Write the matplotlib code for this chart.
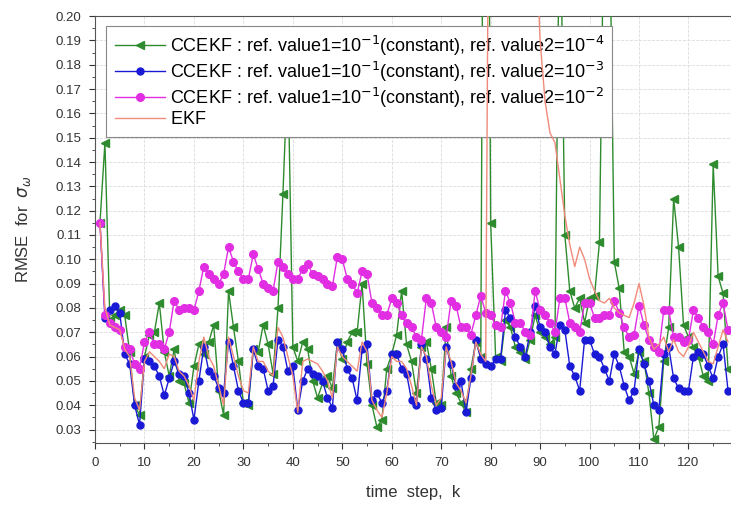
import matplotlib
matplotlib.use("Agg")
import matplotlib.pyplot as plt
from matplotlib.ticker import MultipleLocator, FormatStrFormatter
import numpy as np

plt.rcParams['font.family'] = ['Liberation Sans', 'DejaVu Sans']

# time steps k = 1 .. 128
steps = np.arange(1, 129)

# CCEKF, ref. value2 = 1e-4  (green)
rmse_1e4 = [
    0.115, 0.148, 0.075, 0.077, 0.079, 0.077, 0.062, 0.040, 0.036, 0.060,
    0.069, 0.070, 0.082, 0.062, 0.052, 0.063, 0.050, 0.049, 0.041, 0.056,
    0.065, 0.061, 0.066, 0.073, 0.046, 0.036, 0.087, 0.072, 0.058, 0.041,
    0.040, 0.063, 0.062, 0.073, 0.065, 0.053, 0.080, 0.127, 0.180, 0.064,
    0.058, 0.066, 0.063, 0.050, 0.043, 0.049, 0.052, 0.047, 0.066, 0.059,
    0.066, 0.070, 0.070, 0.090, 0.057, 0.040, 0.031, 0.034, 0.055, 0.061,
    0.069, 0.087, 0.065, 0.058, 0.045, 0.064, 0.066, 0.055, 0.041, 0.040,
    0.072, 0.052, 0.045, 0.041, 0.037, 0.055, 0.066, 0.060, 0.500, 0.115,
    0.060, 0.058, 0.075, 0.072, 0.064, 0.062, 0.059, 0.067, 0.077, 0.070,
    0.068, 0.065, 0.068, 0.260, 0.110, 0.087, 0.080, 0.084, 0.074, 0.084,
    0.085, 0.107, 0.260, 0.250, 0.099, 0.088, 0.062, 0.060, 0.053, 0.062,
    0.058, 0.045, 0.026, 0.031, 0.058, 0.072, 0.125, 0.105, 0.073, 0.068,
    0.064, 0.060, 0.052, 0.050, 0.139, 0.093, 0.086, 0.055,
]

# CCEKF, ref. value2 = 1e-3  (blue)
rmse_1e3 = [
    0.115, 0.076, 0.079, 0.081, 0.078, 0.061, 0.057, 0.040, 0.032, 0.059,
    0.058, 0.056, 0.052, 0.044, 0.051, 0.058, 0.053, 0.052, 0.045, 0.034,
    0.050, 0.064, 0.054, 0.052, 0.047, 0.045, 0.066, 0.056, 0.046, 0.041,
    0.041, 0.063, 0.056, 0.055, 0.046, 0.048, 0.067, 0.064, 0.054, 0.056,
    0.038, 0.050, 0.055, 0.053, 0.052, 0.050, 0.043, 0.039, 0.066, 0.063,
    0.055, 0.051, 0.042, 0.063, 0.065, 0.042, 0.045, 0.041, 0.046, 0.061,
    0.061, 0.055, 0.053, 0.042, 0.040, 0.065, 0.059, 0.043, 0.038, 0.039,
    0.064, 0.057, 0.048, 0.050, 0.037, 0.051, 0.067, 0.059, 0.057, 0.056,
    0.059, 0.059, 0.079, 0.076, 0.068, 0.064, 0.060, 0.070, 0.081, 0.072,
    0.070, 0.064, 0.061, 0.073, 0.071, 0.056, 0.052, 0.046, 0.067, 0.067,
    0.061, 0.060, 0.055, 0.050, 0.061, 0.056, 0.048, 0.042, 0.046, 0.063,
    0.057, 0.050, 0.040, 0.038, 0.061, 0.064, 0.051, 0.047, 0.046, 0.046,
    0.060, 0.062, 0.061, 0.056, 0.051, 0.060, 0.065, 0.046,
]

# CCEKF, ref. value2 = 1e-2  (magenta)
rmse_1e2 = [
    0.115, 0.077, 0.074, 0.072, 0.071, 0.064, 0.063, 0.057, 0.055, 0.066,
    0.070, 0.065, 0.065, 0.063, 0.070, 0.083, 0.079, 0.080, 0.080, 0.079,
    0.087, 0.097, 0.094, 0.092, 0.090, 0.094, 0.105, 0.099, 0.095, 0.092,
    0.092, 0.102, 0.096, 0.090, 0.088, 0.087, 0.099, 0.097, 0.094, 0.092,
    0.092, 0.096, 0.098, 0.094, 0.093, 0.092, 0.090, 0.089, 0.101, 0.100,
    0.092, 0.090, 0.086, 0.095, 0.094, 0.082, 0.080, 0.077, 0.077, 0.084,
    0.082, 0.077, 0.074, 0.072, 0.068, 0.067, 0.084, 0.082, 0.072, 0.070,
    0.068, 0.083, 0.081, 0.072, 0.072, 0.069, 0.077, 0.085, 0.078, 0.077,
    0.073, 0.072, 0.087, 0.082, 0.074, 0.074, 0.070, 0.069, 0.087, 0.079,
    0.077, 0.074, 0.070, 0.084, 0.084, 0.074, 0.072, 0.070, 0.082, 0.082,
    0.076, 0.076, 0.077, 0.077, 0.083, 0.078, 0.072, 0.068, 0.069, 0.081,
    0.073, 0.067, 0.064, 0.062, 0.079, 0.079, 0.068, 0.068, 0.066, 0.067,
    0.079, 0.076, 0.072, 0.070, 0.065, 0.077, 0.082, 0.071,
]

# EKF (salmon line, diverges off the top between k=80 and k=89)
rmse_ekf = [
    0.115, 0.080, 0.073, 0.072, 0.071, 0.063, 0.060, 0.043, 0.038, 0.058,
    0.062, 0.060, 0.058, 0.055, 0.061, 0.060, 0.054, 0.052, 0.048, 0.042,
    0.058, 0.068, 0.060, 0.056, 0.048, 0.040, 0.068, 0.060, 0.052, 0.046,
    0.045, 0.064, 0.058, 0.058, 0.054, 0.052, 0.072, 0.068, 0.060, 0.052,
    0.037, 0.058, 0.059, 0.058, 0.057, 0.054, 0.050, 0.043, 0.064, 0.060,
    0.058, 0.056, 0.054, 0.066, 0.062, 0.042, 0.038, 0.035, 0.045, 0.060,
    0.058, 0.058, 0.055, 0.048, 0.040, 0.064, 0.060, 0.048, 0.040, 0.043,
    0.064, 0.058, 0.049, 0.046, 0.041, 0.052, 0.066, 0.061, 0.058, 0.400,
    0.400, 0.400, 0.400, 0.400, 0.400, 0.400, 0.400, 0.400, 0.240, 0.190,
    0.165, 0.152, 0.148, 0.133, 0.118, 0.106, 0.097, 0.105, 0.100, 0.092,
    0.087, 0.083, 0.082, 0.084, 0.080, 0.078, 0.077, 0.076, 0.082, 0.090,
    0.081, 0.068, 0.063, 0.065, 0.068, 0.062, 0.067, 0.062, 0.060, 0.064,
    0.070, 0.066, 0.062, 0.058, 0.057, 0.064, 0.071, 0.066,
]

LABELS = [
    r'CCEKF : ref. value1=10$^{-1}$(constant), ref. value2=10$^{-4}$',
    r'CCEKF : ref. value1=10$^{-1}$(constant), ref. value2=10$^{-3}$',
    r'CCEKF : ref. value1=10$^{-1}$(constant), ref. value2=10$^{-2}$',
    r'$\mathregular{EKF^{\ }}$',
]

fig = plt.figure(figsize=(7.31, 5.05), dpi=100)
ax = fig.add_axes([0.130, 0.123, 0.870, 0.845])

ax.plot(steps, rmse_1e4, color='#2e8b2e', lw=1.0, marker='<', ms=5.5,
        label=LABELS[0], zorder=3)
ax.plot(steps, rmse_1e3, color='#1a1ad6', lw=1.0, marker='o', ms=5,
        label=LABELS[1], zorder=4)
ax.plot(steps, rmse_1e2, color='#e22ee2', lw=1.0, marker='o', ms=5.5,
        label=LABELS[2], zorder=5)
ax.plot(steps, rmse_ekf, color='#f08a7a', lw=1.0,
        label=LABELS[3], zorder=6)

ax.set_xlim(0, 128.6)
ax.set_ylim(0.0245, 0.20)
ax.xaxis.set_major_locator(MultipleLocator(10))
ax.xaxis.set_minor_locator(MultipleLocator(5))
ax.yaxis.set_major_locator(MultipleLocator(0.01))
ax.yaxis.set_minor_locator(MultipleLocator(0.005))
ax.yaxis.set_major_formatter(FormatStrFormatter('%.2f'))
ax.tick_params(which='both', direction='out', labelsize=9.5, colors='#333333')
ax.tick_params(which='major', length=4, pad=6)
ax.tick_params(which='minor', length=2)
ax.grid(True, which='major', color='#dcdcdc', lw=0.6, ls='--')
ax.spines['right'].set_visible(False)
for s in ('left', 'bottom', 'top'):
    ax.spines[s].set_color('#555555')

ax.set_xlabel('time  step,  k', fontsize=12, color='#333333', labelpad=12)
ax.set_ylabel(r'RMSE  for  $\sigma_{\omega}$', fontsize=12, color='#333333',
              labelpad=16)

leg = ax.legend(loc='upper left', bbox_to_anchor=(0.018, 0.978), fontsize=13,
                handlelength=2.8, labelspacing=0.1, borderpad=0.45,
                fancybox=False, framealpha=1, edgecolor='#888888',
                handletextpad=0.25, borderaxespad=0)
leg.get_frame().set_linewidth(0.8)

fig.savefig('out.png', dpi=100)
